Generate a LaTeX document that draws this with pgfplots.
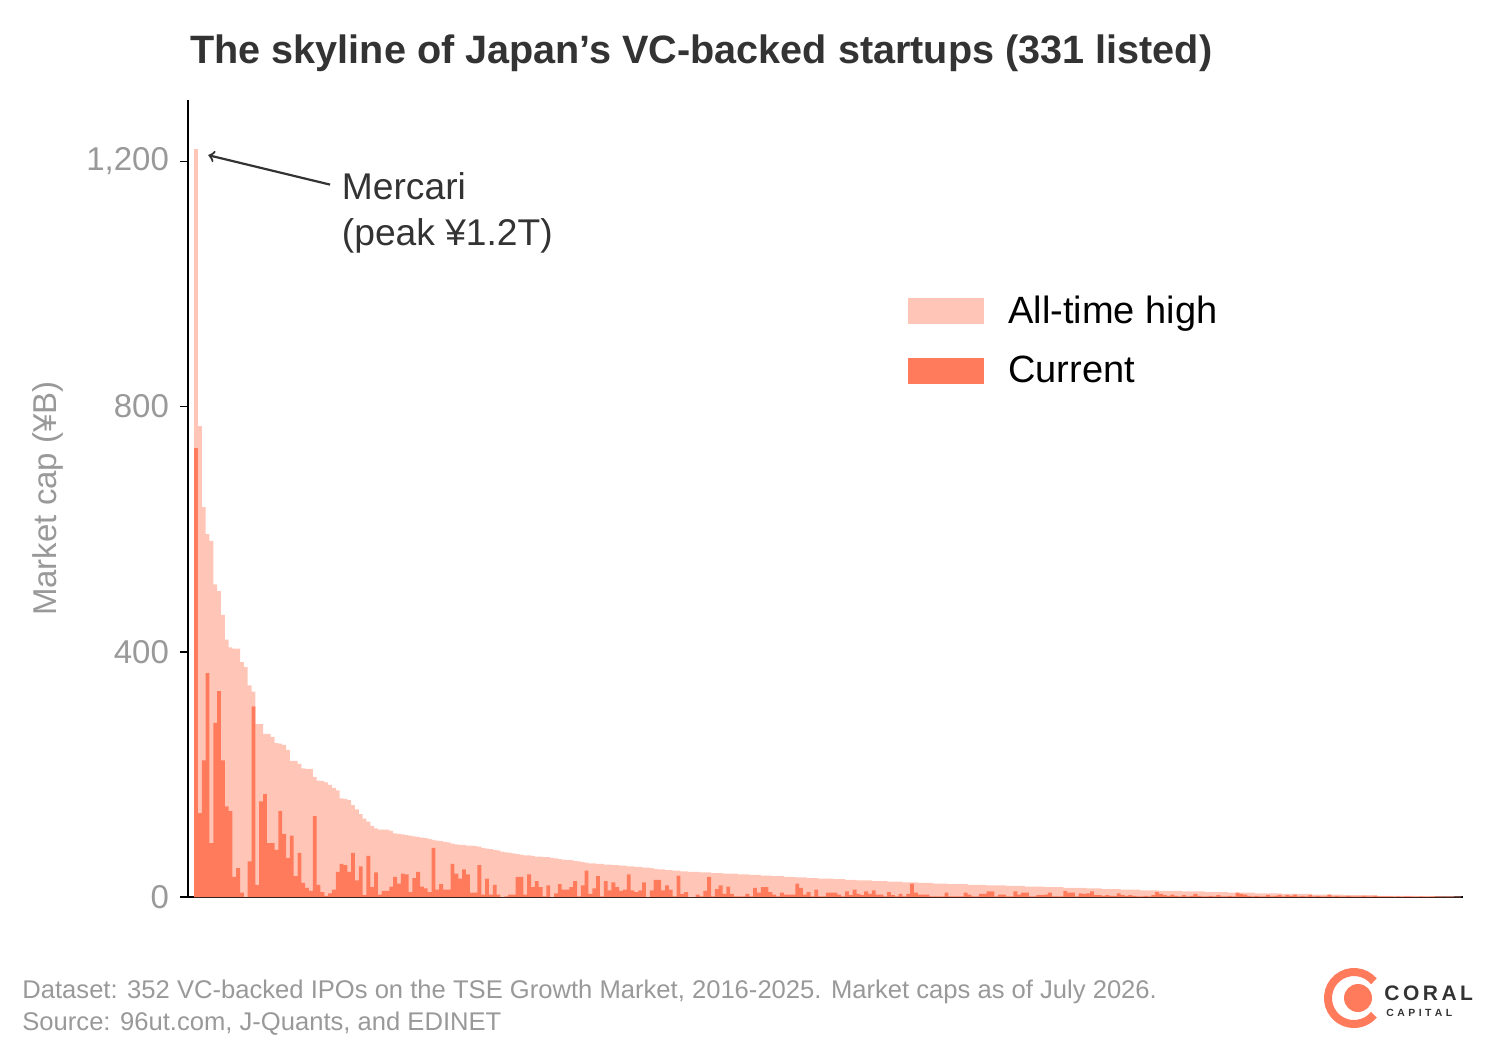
\documentclass[border=0pt]{standalone}
\usepackage{pgfplots}
\usepackage{pgfplotstable}
\pgfplotsset{compat=1.18}
\usepackage{fontspec}
\setmainfont{Liberation Sans}
\definecolor{ath}{HTML}{FFC6B8}
\definecolor{cur}{HTML}{FF7B5C}
\definecolor{tk}{HTML}{999999}
\definecolor{tt}{HTML}{333333}
\pgfplotstableread[row sep=\\]{
a c\\
1220 732\\ 768 137\\ 636 223\\ 592 365\\ 581 88\\ 510 284\\ 499 336\\ 460 223\\ 420 148\\ 407 140\\
405 33\\ 405 47\\ 383 7\\ 375 0\\ 345 58\\ 335 311\\ 282 20\\ 282 156\\ 266 168\\ 266 88\\
261 88\\ 251 77\\ 250 140\\ 248 103\\ 240 64\\ 222 100\\ 222 34\\ 217 72\\ 210 23\\ 209 15\\
209 10\\ 196 132\\ 190 20\\ 189 8\\ 187 2\\ 183 6\\ 178 12\\ 174 41\\ 161 54\\ 160 52\\
158 41\\ 150 72\\ 143 27\\ 135 50\\ 128 3\\ 123 67\\ 116 16\\ 112 40\\ 110 4\\ 110 10\\
110 10\\ 108 17\\ 104 33\\ 103 22\\ 102 38\\ 101 37\\ 100 8\\ 99 31\\ 98 41\\ 97 17\\
96 14\\ 95 8\\ 93 80\\ 92 12\\ 91 21\\ 90 12\\ 89 12\\ 87 54\\ 86 38\\ 85 30\\
85 45\\ 84 37\\ 84 7\\ 83 7\\ 82 52\\ 80 4\\ 79 30\\ 78 4\\ 77 20\\ 76 4\\
74 0\\ 73 1\\ 72 4\\ 71 4\\ 70 33\\ 69 33\\ 68 4\\ 68 37\\ 67 16\\ 66 26\\
66 16\\ 65 1\\ 65 19\\ 64 0\\ 63 6\\ 62 21\\ 61 12\\ 60 12\\ 60 16\\ 59 26\\
58 1\\ 57 19\\ 56 43\\ 55 5\\ 55 14\\ 54 34\\ 54 1\\ 53 26\\ 53 11\\ 52 24\\
52 16\\ 51 10\\ 51 12\\ 50 37\\ 50 11\\ 49 8\\ 49 11\\ 48 24\\ 48 0\\ 47 11\\
46 28\\ 45 28\\ 45 11\\ 44 19\\ 44 12\\ 43 1\\ 43 35\\ 42 5\\
42 8\\ 41 0\\ 41 0\\ 41 4\\ 40 1\\ 40 10\\ 40 33\\ 39 1\\ 39 13\\ 39 19\\
38 5\\ 38 17\\ 38 5\\ 38 1\\ 37 1\\ 37 1\\ 37 5\\ 36 1\\ 36 15\\ 36 7\\
35 16\\ 35 16\\ 35 8\\ 34 4\\ 34 1\\ 34 7\\ 33 4\\ 33 4\\ 33 4\\ 32 22\\
32 15\\ 32 4\\ 31 8\\ 31 1\\ 31 12\\ 30 1\\ 30 1\\ 30 7\\ 30 7\\ 29 7\\
29 4\\ 29 1\\ 28 9\\ 28 3\\ 28 12\\ 27 5\\ 27 3\\ 27 9\\ 27 5\\ 26 11\\
26 4\\ 26 4\\ 26 1\\ 25 8\\ 25 3\\ 25 1\\ 25 5\\ 24 1\\ 24 5\\ 24 22\\
24 7\\ 23 4\\ 23 4\\ 23 4\\ 23 1\\ 22 1\\ 22 1\\ 22 1\\ 22 7\\ 21 1\\
21 1\\ 21 1\\ 21 1\\ 21 7\\ 20 4\\ 20 1\\ 20 1\\ 20 5\\ 20 5\\ 19 9\\
19 9\\ 19 1\\ 19 4\\ 19 4\\ 18 1\\ 18 1\\ 18 9\\ 18 4\\ 18 7\\ 17 7\\
17 1\\ 17 1\\ 17 3\\ 17 3\\ 16 4\\ 16 7\\ 16 1\\ 16 1\\ 16 1\\ 15 10\\
15 7\\ 15 7\\ 15 1\\
15 6\\ 15 5\\ 14 6\\ 14 9\\ 14 3\\ 14 3\\ 13 2\\ 13 3\\ 13 2\\ 13 2\\
13 6\\ 12 3\\ 12 2\\ 12 3\\ 12 2\\ 12 1\\ 11 1\\ 11 2\\ 11 1\\ 11 3\\
11 8\\ 10 5\\ 10 3\\ 10 2\\ 10 4\\ 10 2\\ 10 1\\ 9 3\\ 9 1\\ 9 2\\
9 5\\ 9 2\\ 9 1\\ 8 1\\ 8 2\\ 8 1\\ 8 3\\ 8 1\\ 8 1\\ 7 2\\
7 1\\ 7 7\\ 7 5\\ 7 4\\ 7 2\\ 7 1\\ 6 2\\ 6 1\\ 6 1\\ 6 3\\
6 1\\ 6 2\\ 6 3\\ 5 1\\ 5 3\\ 5 2\\ 5 4\\ 5 1\\ 5 2\\ 5 1\\
5 3\\ 4 1\\ 4 2\\ 4 1\\ 4 1\\ 4 4\\ 4 1\\ 4 2\\ 4 1\\ 3 1\\
3 2\\ 3 1\\ 3 1\\ 3 1\\ 3 2\\ 3 1\\ 3 1\\ 3 2\\ 2 1\\ 2 1\\
2 1\\ 2 1\\ 2 0.5\\ 2 1\\ 2 0.5\\ 2 1\\ 2 1\\ 2 0.5\\ 1.5 0.5\\ 1.5 1\\
1.5 0.5\\ 1.5 0.5\\ 1.5 1\\ 1 0.5\\ 1 0.5\\ 1 0.3\\ 1 0.5\\ 1 0.3\\ 0.8 0.3\\ 0.5 0.2\\
}\data
\begin{document}
\begin{tikzpicture}[x=1pt,y=1pt]
\path[use as bounding box] (0pt,0pt) rectangle (748pt,-528pt);
\node[anchor=base west,font=\fontsize{19.8}{22}\selectfont\bfseries,text=tt,inner sep=0] at (95pt,-31.5pt) {The skyline of Japan\char"0027 s VC-backed startups (331 listed)};
\begin{axis}[
  at={(94pt,-448.5pt)}, anchor=south west,
  scale only axis, width=637.5pt, height=398.5pt,
  xmin=-2.1, xmax=330.9, ymin=0, ymax=1300,
  axis x line=bottom, axis y line=left,
  axis line style={black,-, line width=0.8pt},
  xtick=\empty,
  ytick={0,400,800,1200},
  yticklabel style={text=tk,font=\fontsize{16.5}{18}\selectfont,xshift=-2pt},
  /pgf/number format/assume math mode=true,
  /pgf/number format/1000 sep={,},
  tick style={black,line width=0.8pt},
  tick align=outside, major tick length=4pt,
  ylabel={Market cap (¥B)},
  every axis y label/.style={at={(rel axis cs:0,0.5)},xshift=-70pt,rotate=90,anchor=center,
     text=tk,font=\fontsize{16.5}{18}\selectfont},
  bar width=1, ybar=0pt, bar shift=0pt,
  legend style={at={(0.56,0.765)},anchor=north west,draw=none,fill=none,
    font=\fontsize{19}{21}\selectfont,row sep=11pt},
  legend image code/.code={\fill[#1] (0pt,-6.5pt) rectangle (38pt,6.5pt);},
  legend cell align=left,
]
\addplot[fill=ath,draw=none] table[x expr=\coordindex,y=a]{\data};
\addlegendentry{\hspace{10pt}All-time high}
\addplot[fill=cur,draw=none] table[x expr=\coordindex,y=c]{\data};
\addlegendentry{\hspace{10pt}Current}
\draw[->,tt,line width=1.1pt] (axis cs:35,1162) -- (axis cs:3.2,1210);
\node[anchor=north west,align=left,text=tt,font=\fontsize{18.6}{23}\selectfont,inner sep=0] at (axis cs:38,1183) {Mercari\\(peak ¥1.2T)};
\end{axis}
\node[anchor=base west,text=tk,font=\fontsize{12.8}{14}\selectfont,inner sep=0] at (11pt,-499pt) {Dataset: 352 VC-backed IPOs on the TSE Growth Market, 2016-2025. Market caps as of July 2026.};
\node[anchor=base west,text=tk,font=\fontsize{12.8}{14}\selectfont,inner sep=0] at (11pt,-515pt) {Source: 96ut.com, J-Quants, and EDINET};
\draw[cur,line width=4pt] (677pt,-499pt) ++(40:13pt) arc (40:320:13pt);
\fill[cur] (679pt,-499pt) circle (7pt);
\node[anchor=base west,text=tt,font=\fontsize{10.5}{12}\selectfont\bfseries,inner sep=0] at (692pt,-500pt) {C\,O\,R\,A\,L};
\node[anchor=base west,text=tt,font=\fontsize{5.2}{6}\selectfont\bfseries,inner sep=0] at (693pt,-508pt) {C\,\,A\,\,P\,\,I\,\,T\,\,A\,\,L};
\end{tikzpicture}
\end{document}
